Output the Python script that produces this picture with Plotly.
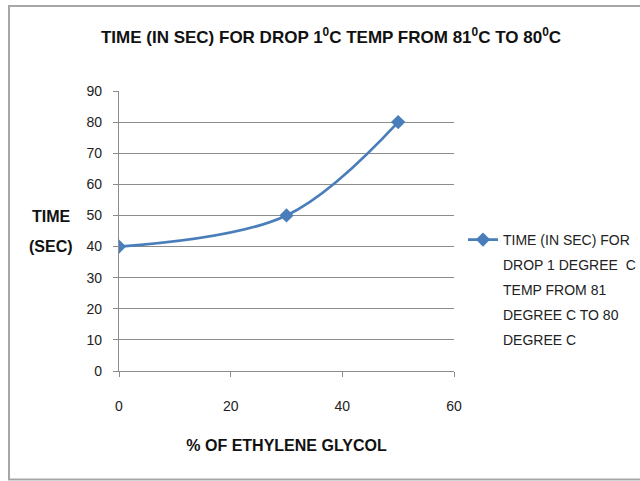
import plotly.graph_objects as go

# Ethylene glycol concentration (%) and time (s) to cool from 81 °C to 80 °C
glycol_pct = [0, 30, 50]
time_sec = [40, 50, 80]

x_ticks = [0, 20, 40, 60]
y_ticks = [0, 10, 20, 30, 40, 50, 60, 70, 80, 90]

legend_lines = [
    "TIME (IN SEC) FOR",
    "DROP 1 DEGREE  C",
    "TEMP FROM 81",
    "DEGREE C TO 80",
    "DEGREE C",
]
y_title_lines = ["TIME", "(SEC)"]

FONT = "Liberation Sans Narrow, Arial Narrow, sans-serif"
BLUE = "#4a7ebb"
GRID = "#8c8c8c"

fig = go.Figure()
fig.add_trace(go.Scatter(
    x=glycol_pct, y=time_sec,
    mode="lines+markers",
    name=legend_lines[0],
    line=dict(color=BLUE, width=2.75, shape="spline", smoothing=1.0),
    marker=dict(symbol="diamond", size=11, color=BLUE),
))

L, R, T, B = 119, 186, 91, 110
W, H = 640, 481
pw, ph = W - L - R, H - T - B

# remaining legend text lines, spaced like the chart's wrapped legend
for i, txt in enumerate(legend_lines[1:], start=1):
    fig.add_annotation(
        xref="paper", yref="paper",
        x=(501 - L) / pw, y=(371 - (240 + 25 * i)) / ph,
        xanchor="left", yanchor="middle",
        text=txt, showarrow=False,
        font=dict(family=FONT, size=14, color="#222222"),
    )

# horizontal two-line y-axis title
for i, txt in enumerate(y_title_lines):
    fig.add_annotation(
        xref="paper", yref="paper",
        x=(51 - L) / pw, y=(371 - (216 + 30 * i)) / ph,
        xanchor="center", yanchor="middle",
        text=f"<b>{txt}</b>", showarrow=False,
        font=dict(family=FONT, size=16, color="#111111"),
    )

fig.update_layout(
    width=W, height=H,
    margin=dict(l=L, r=R, t=T, b=B, autoexpand=False),
    paper_bgcolor="white", plot_bgcolor="white",
    title=dict(
        text="<b>TIME (IN SEC) FOR DROP 1<sup>0</sup>C TEMP FROM 81<sup>0</sup>C TO 80<sup>0</sup>C</b>",
        x=331 / W, xanchor="center", y=1 - 37 / H, yanchor="middle",
        font=dict(family=FONT, size=17, color="#111111"),
    ),
    showlegend=True,
    legend=dict(
        x=(463 - L) / pw, y=(371 - 240) / ph,
        xanchor="left", yanchor="middle",
        font=dict(family=FONT, size=14, color="#222222"),
        bgcolor="rgba(0,0,0,0)", borderwidth=0,
    ),
    shapes=[dict(
        type="rect", xref="paper", yref="paper",
        x0=(9 - L) / pw, x1=(700 - L) / pw,
        y0=(371 - 479.5) / ph, y1=(371 - 6) / ph,
        line=dict(color="#a6a6a6", width=2), layer="below",
    )],
)

fig.update_xaxes(
    range=[0, 60], tickvals=x_ticks,
    showgrid=False, zeroline=False,
    showline=True, linecolor=GRID, linewidth=1.2,
    ticks="outside", ticklen=5, tickcolor=GRID,
    ticklabelstandoff=17,
    tickfont=dict(family=FONT, size=14, color="#222222"),
    title=dict(text="<b>% OF ETHYLENE GLYCOL</b>", standoff=26,
               font=dict(family=FONT, size=16, color="#111111")),
)
fig.update_yaxes(
    range=[0, 90], tickvals=y_ticks,
    showgrid=True, gridcolor=GRID, gridwidth=1,
    zeroline=False,
    showline=True, linecolor=GRID, linewidth=1.2,
    ticks="outside", ticklen=5, tickcolor=GRID,
    ticklabelstandoff=8,
    tickfont=dict(family=FONT, size=14, color="#222222"),
)

fig.write_html("out.html")
